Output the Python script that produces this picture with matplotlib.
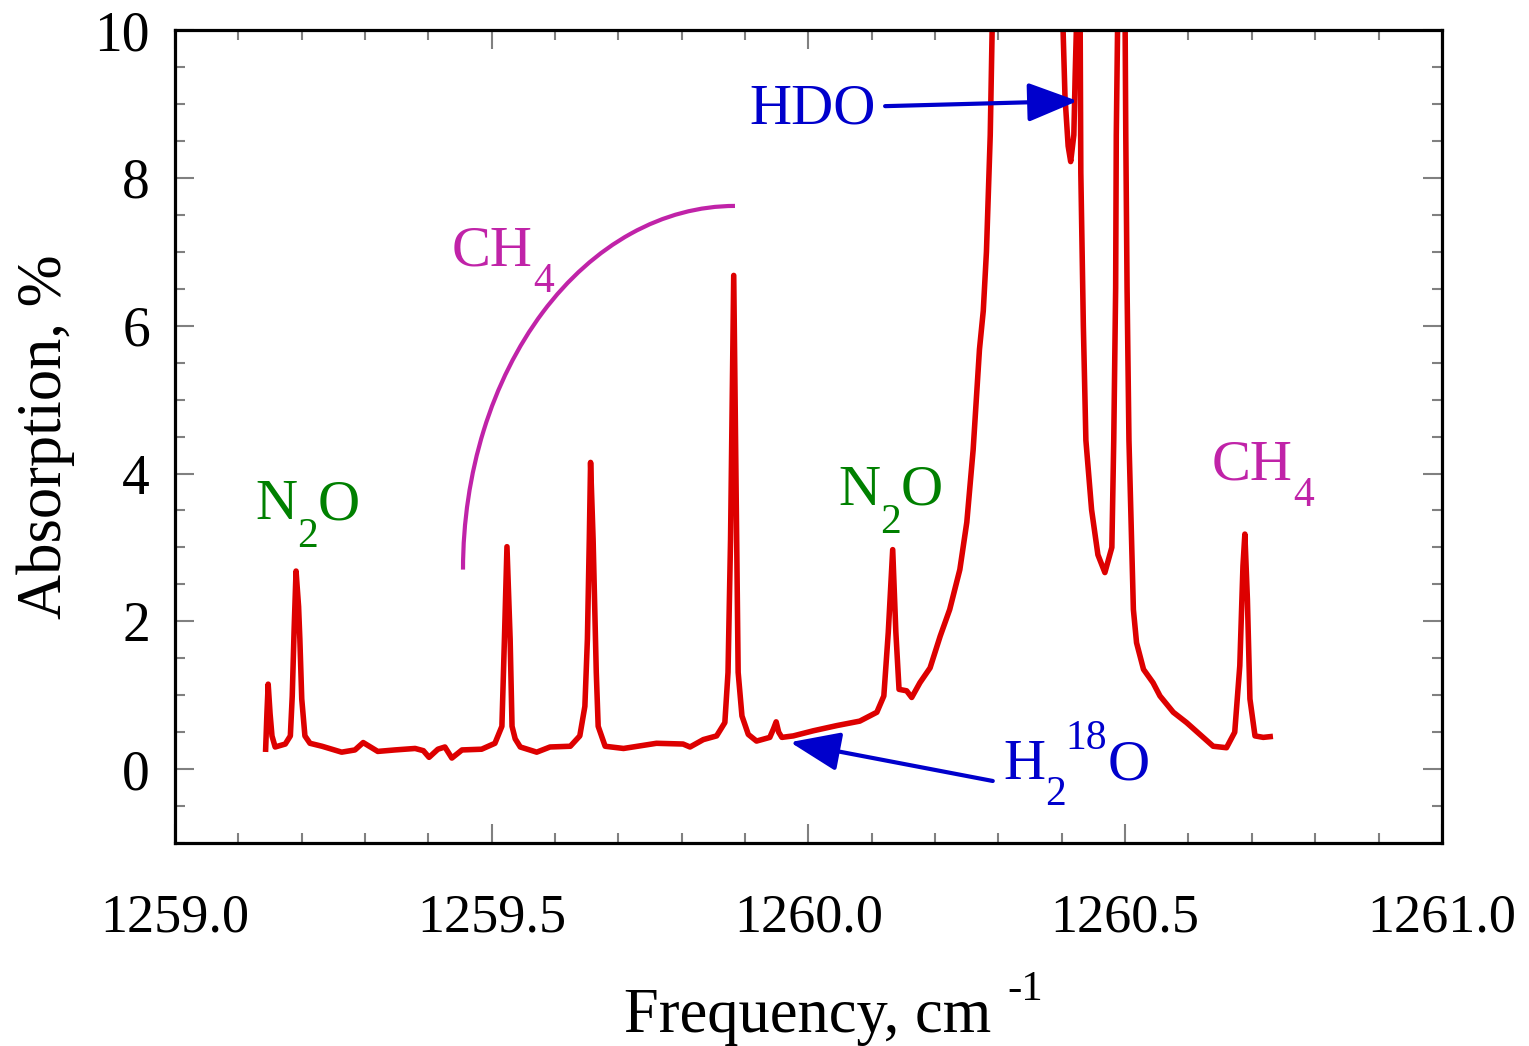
import matplotlib
matplotlib.use('Agg')
import matplotlib.pyplot as plt
from matplotlib.patches import Arc
from matplotlib.ticker import MultipleLocator, FormatStrFormatter

# spectrum (frequency cm-1, absorption %); values > 10 are off-scale
freq = [1259.143, 1259.145, 1259.147, 1259.150, 1259.153, 1259.158, 1259.174, 1259.182,
        1259.185, 1259.188, 1259.191, 1259.195, 1259.197, 1259.200, 1259.205, 1259.213,
        1259.232, 1259.263, 1259.284, 1259.297, 1259.320, 1259.347, 1259.379, 1259.392,
        1259.401, 1259.415, 1259.426, 1259.437, 1259.453, 1259.484, 1259.505, 1259.516,
        1259.520, 1259.524, 1259.529, 1259.532, 1259.537, 1259.545, 1259.571, 1259.592,
        1259.624, 1259.639, 1259.647, 1259.651, 1259.654, 1259.656, 1259.660, 1259.665,
        1259.668, 1259.679, 1259.708, 1259.760, 1259.802, 1259.813, 1259.834, 1259.855,
        1259.868, 1259.873, 1259.877, 1259.882, 1259.887, 1259.889, 1259.895, 1259.905,
        1259.918, 1259.939, 1259.945, 1259.949, 1259.953, 1259.958, 1259.976, 1260.008,
        1260.045, 1260.081, 1260.108, 1260.119, 1260.126, 1260.133, 1260.138, 1260.143,
        1260.155, 1260.163, 1260.176, 1260.192, 1260.208, 1260.223, 1260.239, 1260.250,
        1260.260, 1260.270, 1260.276, 1260.281, 1260.287, 1260.290, 1260.294, 1260.397,
        1260.402, 1260.405, 1260.410, 1260.414, 1260.419, 1260.421, 1260.423, 1260.426,
        1260.429, 1260.430, 1260.434, 1260.438, 1260.447, 1260.457, 1260.468, 1260.479,
        1260.482, 1260.485, 1260.486, 1260.488, 1260.493, 1260.500, 1260.501, 1260.503,
        1260.506, 1260.510, 1260.513, 1260.518, 1260.529, 1260.544, 1260.555, 1260.576,
        1260.597, 1260.618, 1260.639, 1260.660, 1260.673, 1260.681, 1260.686, 1260.689,
        1260.693, 1260.697, 1260.705, 1260.718, 1260.729]
absorp = [0.27, 0.75, 1.15, 0.75, 0.45, 0.30, 0.34, 0.45,
          0.99, 1.90, 2.68, 2.20, 1.76, 0.95, 0.45, 0.35,
          0.31, 0.23, 0.26, 0.36, 0.24, 0.26, 0.28, 0.25,
          0.16, 0.27, 0.30, 0.15, 0.26, 0.27, 0.35, 0.58,
          1.76, 3.01, 1.76, 0.58, 0.41, 0.30, 0.23, 0.30,
          0.31, 0.45, 0.85, 1.76, 3.11, 4.15, 3.11, 1.31,
          0.58, 0.31, 0.28, 0.35, 0.34, 0.30, 0.40, 0.45,
          0.63, 1.31, 3.11, 6.68, 2.88, 1.31, 0.72, 0.47,
          0.38, 0.43, 0.55, 0.64, 0.50, 0.43, 0.45, 0.52,
          0.59, 0.65, 0.77, 0.99, 1.85, 2.97, 1.85, 1.08,
          1.06, 0.97, 1.17, 1.37, 1.80, 2.16, 2.70, 3.34,
          4.32, 5.68, 6.20, 7.00, 8.58, 10.0, 11.0, 11.0,
          10.0, 9.10, 8.43, 8.22, 8.58, 9.36, 10.0, 11.0,
          10.0, 8.07, 6.00, 4.45, 3.51, 2.90, 2.66, 3.00,
          4.45, 6.51, 8.58, 10.0, 11.0, 10.0, 8.58, 6.51,
          4.45, 3.15, 2.16, 1.71, 1.35, 1.17, 0.99, 0.77,
          0.63, 0.47, 0.31, 0.29, 0.50, 1.40, 2.75, 3.18,
          2.30, 0.95, 0.45, 0.43, 0.44]

plt.rcParams['font.family'] = 'Liberation Serif'

fig = plt.figure(figsize=(15.29, 10.46), dpi=100)
ax = fig.add_axes([0.1145, 0.194, 0.8285, 0.7773])
renderer = fig.canvas.get_renderer()

ax.plot(freq, absorp, color='#dd0000', lw=4.0, solid_joinstyle='round')

ax.set_xlim(1259.0, 1261.0)
ax.set_ylim(-1, 10)
ax.xaxis.set_major_locator(MultipleLocator(0.5))
ax.xaxis.set_minor_locator(MultipleLocator(0.1))
ax.yaxis.set_major_locator(MultipleLocator(2))
ax.yaxis.set_minor_locator(MultipleLocator(0.5))
ax.xaxis.set_major_formatter(FormatStrFormatter('%.1f'))

ax.tick_params(which='both', direction='in', top=True, right=True, color='#808080', width=1.5)
ax.tick_params(which='major', length=14)
ax.tick_params(which='minor', length=7)
ax.tick_params(axis='x', labelsize=39, pad=36)
ax.tick_params(axis='y', labelsize=40, pad=18)
for s in ax.spines.values():
    s.set_linewidth(2.3)


def pieces(x, y, parts, color, coords='data'):
    # text made of pieces (string, shift in px, font size), laid left to right
    dx = 0
    for s, dy, size in parts:
        t = ax.annotate(s, (x, y), xycoords=coords, xytext=(dx, dy),
                        textcoords='offset pixels', color=color, fontsize=size,
                        ha='left', va='baseline', annotation_clip=False)
        dx += t.get_window_extent(renderer).width


ax.set_ylabel('Absorption, %', fontsize=45, labelpad=14)
pieces(0.3544, -0.2325, [('Frequency, cm ', 0, 45), ('-1', 32, 31)], 'black',
       coords='axes fraction')

green = '#008000'
magenta = '#c023a8'
blue = '#0000cc'

pieces(1259.126, 3.38, [('N', 0, 42), ('2', -28, 30), ('O', 0, 42)], green)
pieces(1260.047, 3.58, [('N', 0, 42), ('2', -28, 30), ('O', 0, 42)], green)
pieces(1259.437, 6.82, [('CH', 0, 42), ('4', -27, 30)], magenta)
pieces(1260.637, 3.92, [('CH', 0, 42), ('4', -27, 30)], magenta)
pieces(1260.307, -0.135, [('H', 0, 42), ('2', -26, 30), ('18', 30, 30), ('O', 0, 42)], blue)
ax.text(1260.007, 8.74, 'HDO', color=blue, fontsize=42, ha='center')

ax.add_patch(Arc((1259.884, 2.70), 2 * 0.4294, 2 * 4.92, theta1=90, theta2=180,
                 color=magenta, lw=3))

arrow = dict(arrowstyle='-|>,head_length=1.4,head_width=0.55', color=blue, lw=3,
             mutation_scale=22, shrinkA=0, shrinkB=0)
ax.annotate('', xy=(1260.425, 9.04), xytext=(1260.121, 8.97), arrowprops=arrow)
ax.annotate('', xy=(1259.971, 0.365), xytext=(1260.291, -0.16), arrowprops=arrow)

fig.savefig('out.png', dpi=100)
